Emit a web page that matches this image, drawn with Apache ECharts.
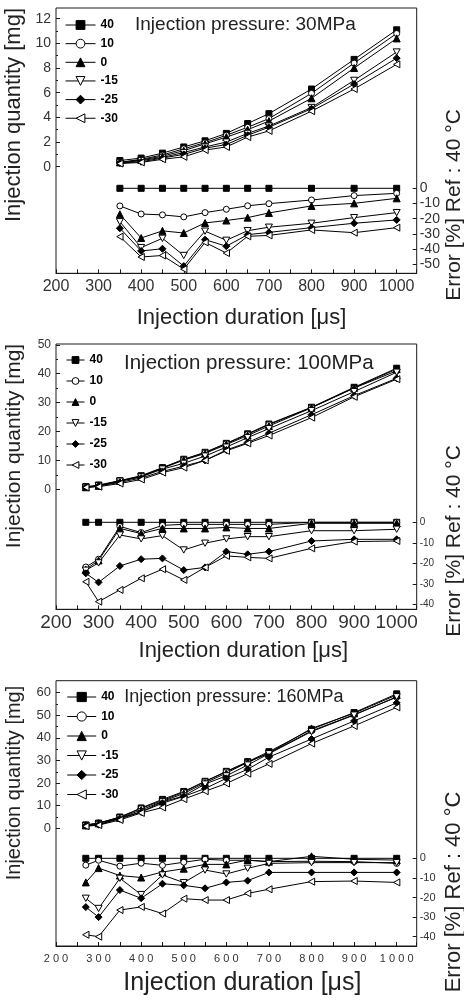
<!DOCTYPE html>
<html><head><meta charset="utf-8">
<script src="https://cdn.jsdelivr.net/npm/echarts@6/dist/echarts.min.js"></script>
<style>html,body{margin:0;padding:0;background:#fff}#c{width:464px;height:1001px}</style>
</head><body><div id="c"></div>
<script>
// ---------- DATA ----------
const tempLabels = ['40', '10', '0', '-15', '-25', '-30'];
const titles = ['Injection pressure: 30MPa', 'Injection pressure: 100MPa', 'Injection pressure: 160MPa'];
const xAxisName = 'Injection duration [\u03bcs]';
const leftAxisName = 'Injection quantity [mg]';
const rightAxisName = 'Error [%] Ref : 40 \u00b0C';

// Panel 1: 30 MPa
const dur30 = [350, 400, 450, 500, 550, 600, 650, 700, 800, 900, 1000];
const qty30_40  = [0.5, 0.7, 1.1, 1.6, 2.1, 2.7, 3.5, 4.3, 6.3, 8.7, 11.1];
const qty30_10  = [0.35, 0.6, 0.95, 1.45, 1.95, 2.55, 3.2, 3.9, 5.95, 8.4, 10.8];
const qty30_0   = [0.35, 0.55, 0.85, 1.3, 1.85, 2.4, 3.0, 3.7, 5.55, 8.0, 10.4];
const qty30_m15 = [0.3, 0.5, 0.75, 1.15, 1.6, 2.0, 2.7, 3.3, 4.8, 7.0, 9.3];
const qty30_m25 = [0.3, 0.4, 0.7, 1.0, 1.5, 1.8, 2.55, 3.2, 4.7, 6.7, 8.8];
const qty30_m30 = [0.25, 0.35, 0.6, 0.8, 1.35, 1.6, 2.4, 2.9, 4.5, 6.3, 8.3];
const err30_40  = [0, 0, 0, 0, 0, 0, 0, 0, 0, 0, 0];
const err30_10  = [-11.6, -16.9, -17.5, -18.8, -16, -13.8, -11.5, -10.1, -7.7, -4.8, -3.3];
const err30_0   = [-17.1, -32.7, -28, -29.4, -22.8, -21.2, -19.3, -16.2, -11.6, -9.9, -6.6];
const err30_m15 = [-22, -39, -32.9, -44.2, -28.2, -34.2, -27.9, -25.6, -23, -19.3, -16];
const err30_m25 = [-26.3, -41.2, -39.8, -51.2, -33.8, -38.1, -30.5, -29, -25.9, -23, -20.8];
const err30_m30 = [-31.8, -45.2, -44.2, -53.2, -35.6, -42.6, -31.6, -31, -27.4, -29.2, -25.9];

// Panel 2: 100 MPa
const dur100 = [270, 300, 350, 400, 450, 500, 550, 600, 650, 700, 800, 900, 1000];
const qty100_40  = [0.9, 1.5, 3.0, 4.7, 7.5, 10.4, 12.8, 15.9, 19.2, 22.6, 28.4, 35.3, 41.9];
const qty100_10  = [0.7, 1.2, 2.9, 4.5, 7.4, 10.3, 12.7, 15.8, 19.0, 22.4, 28.3, 35.0, 41.0];
const qty100_0   = [0.7, 1.2, 2.9, 4.4, 7.3, 10.1, 12.4, 15.5, 18.6, 21.9, 28.2, 35.1, 41.6];
const qty100_m15 = [0.7, 1.2, 2.8, 4.3, 7.0, 9.0, 11.5, 14.6, 17.9, 21.0, 27.2, 33.8, 40.5];
const qty100_m25 = [0.7, 1.1, 2.4, 3.9, 6.2, 8.0, 10.0, 13.6, 16.2, 19.4, 25.8, 32.4, 38.4];
const qty100_m30 = [0.65, 0.9, 2.0, 3.4, 5.8, 7.5, 10.0, 13.3, 15.9, 18.6, 24.8, 32.0, 38.1];
const err100_40  = [0, 0, 0, 0, 0, 0, 0, 0, 0, 0, 0, 0, 0];
const err100_10  = [-21.8, -18, -2, -5, -1.5, -1, -1, -1, -1, -1, 0, 0, 0];
const err100_0   = [-23, -18.6, -3, -5.5, -3, -3, -3, -2.5, -3, -3, -0.5, -0.5, -0.5];
const err100_m15 = [-23.4, -19.8, -6.2, -8.1, -6.5, -13.5, -10.2, -8.1, -7.0, -7.0, -4.1, -4.1, -3.4];
const err100_m25 = [-24.9, -29.3, -21.3, -18.0, -17.6, -23.3, -22, -14.3, -15.6, -14.3, -9.1, -8.3, -8.3];
const err100_m30 = [-29, -38.7, -33, -27.3, -22.9, -28.1, -22, -16.4, -17.1, -17.6, -12.7, -9.4, -9.1];

// Panel 3: 160 MPa
const dur160 = [270, 300, 350, 400, 450, 500, 550, 600, 650, 700, 800, 900, 1000];
const qty160_40  = [1.5, 2.3, 5.0, 9.0, 12.8, 16.3, 20.8, 25.2, 29.5, 33.9, 43.8, 51.2, 59.5];
const qty160_10  = [1.4, 2.3, 4.8, 8.8, 12.3, 16.0, 20.7, 25.0, 29.2, 33.3, 43.1, 50.3, 58.0];
const qty160_0   = [1.3, 2.2, 4.6, 8.1, 11.9, 15.4, 20.1, 24.4, 29.2, 33.3, 44.2, 50.9, 59.0];
const qty160_m15 = [1.2, 1.7, 4.5, 7.3, 11.7, 14.3, 19.6, 23.2, 28.0, 33.0, 42.8, 50.1, 58.2];
const qty160_m25 = [1.1, 1.6, 4.2, 7.2, 11.1, 14.1, 17.6, 22.1, 26.1, 31.5, 39.5, 47.5, 55.5];
const qty160_m30 = [0.9, 1.4, 3.7, 6.8, 9.2, 12.9, 16.4, 19.8, 24.2, 28.5, 37.5, 45.3, 53.5];
const err160_40  = [0, 0, 0, 0, 0, 0, 0, 0, 0, 0, 0, 0, 0];
const err160_10  = [-3.5, -1, -4, -2.5, -3.6, -2, -0.5, -1, -1, -1.7, -1.5, -1.7, -2.6];
const err160_0   = [-12.3, -5, -8.8, -9.8, -7, -5.3, -3.1, -3.1, -0.9, -1.7, 1.0, -0.5, -0.9];
const err160_m15 = [-20.4, -25.6, -10.2, -18.5, -8.5, -12.4, -6, -8, -5.1, -2.6, -2.2, -2.2, -2.2];
const err160_m25 = [-24.9, -30, -16.2, -20.4, -13, -13.8, -15.3, -12.3, -11.4, -7.2, -7.2, -7.2, -7.2];
const err160_m30 = [-39, -40, -26.4, -24.8, -28.2, -20.6, -21.3, -21.3, -17.9, -15.8, -11.9, -11.6, -12.3];

// ---------- STYLE / LAYOUT ----------
const FONT = '"Liberation Sans", Arial, sans-serif';
const INK = '#1a1a1a';
const symbols = ['rect', 'circle', 'triangle', 'path://M0,0 L10,0 L5,9 Z', 'diamond', 'path://M0,5 L9,0 L9,10 Z'];
const fills = ['#000', '#fff', '#000', '#fff', '#000', '#fff'];
const symSizes = [6, 6, 7, 7, 7, 7];

const panels = [
  { dur: dur30, qty: [qty30_40, qty30_10, qty30_0, qty30_m15, qty30_m25, qty30_m30],
    err: [err30_40, err30_10, err30_0, err30_m15, err30_m25, err30_m30],
    boxTop: 8, qTop: 18.7, qH: 148, qMax: 12, qInt: 2, eTop: 188.3, eH: 76, eMin: -50,
    xFont: 16, xMargin: 5, lFont: 14, rFont: 14, spaced: false,
    legTop: 19, legLeft: 65, legW: 30, legH: 11, legGap: 6.65, legFont: 12,
    title: { x: 135, y: 25, size: 19 }, xName: { x: 241.5, y: 318.3, size: 22 },
    lName: { x: 14, y: 115, size: 22 }, rName: { x: 454, y: 205, size: 21 } },
  { dur: dur100, qty: [qty100_40, qty100_10, qty100_0, qty100_m15, qty100_m25, qty100_m30],
    err: [err100_40, err100_10, err100_0, err100_m15, err100_m25, err100_m30],
    boxTop: 344, qTop: 344.8, qH: 144.5, qMax: 50, qInt: 10, eTop: 522.3, eH: 82, eMin: -40,
    xFont: 19, xMargin: 4, lFont: 12, rFont: 10, spaced: false,
    legTop: 354, legLeft: 66, legW: 18, legH: 8.5, legGap: 9, legFont: 12,
    title: { x: 124, y: 363.3, size: 20.5 }, xName: { x: 243.3, y: 651, size: 22 },
    lName: { x: 14, y: 446, size: 21 }, rName: { x: 454, y: 541, size: 21 } },
  { dur: dur160, qty: [qty160_40, qty160_10, qty160_0, qty160_m15, qty160_m25, qty160_m30],
    err: [err160_40, err160_10, err160_0, err160_m15, err160_m25, err160_m30],
    boxTop: 680.7, qTop: 692.7, qH: 135.6, qMax: 60, qInt: 10, eTop: 858.3, eH: 78.4, eMin: -40,
    xFont: 11, xMargin: 7, lFont: 13, rFont: 11, spaced: true,
    legTop: 691, legLeft: 66.7, legW: 29, legH: 11.5, legGap: 7.5, legFont: 12,
    title: { x: 124.3, y: 697.3, size: 18 }, xName: { x: 242.4, y: 983.3, size: 25 },
    lName: { x: 14, y: 783, size: 20 }, rName: { x: 454, y: 892, size: 22 } }
];

const X_MIN = 200, X_MAX = 1047, BOX_H = 265.3, LEFT = 56, RIGHT = 47.3;

const grid = [], xAxis = [], yAxis = [], series = [], legend = [], graphic = [];

panels.forEach((p, pi) => {
  const gb = pi * 3;
  grid.push({ left: LEFT, right: RIGHT, top: p.boxTop, height: BOX_H, show: true,
    borderColor: INK, borderWidth: 1, backgroundColor: 'transparent', containLabel: false, outerBoundsMode: 'none' });
  grid.push({ left: LEFT, right: RIGHT, top: p.qTop, height: p.qH, show: false, containLabel: false, outerBoundsMode: 'none' });
  grid.push({ left: LEFT, right: RIGHT, top: p.eTop, height: p.eH, show: false, containLabel: false, outerBoundsMode: 'none' });

  xAxis.push({ gridIndex: gb, type: 'value', min: X_MIN, max: X_MAX, interval: 50, position: 'bottom',
    axisLine: { show: true, lineStyle: { color: INK, width: 1 } },
    axisTick: { show: true, inside: true, length: 4, lineStyle: { color: INK } },
    splitLine: { show: false },
    axisLabel: { show: true, margin: p.xMargin, fontSize: p.xFont, color: '#333', fontFamily: FONT,
      formatter: v => (v % 100 === 0 && v <= 1000) ? (p.spaced ? String(v).split('').join(' ') : String(v)) : '' } });
  xAxis.push({ gridIndex: gb + 1, type: 'value', min: X_MIN, max: X_MAX, show: false });
  xAxis.push({ gridIndex: gb + 2, type: 'value', min: X_MIN, max: X_MAX, show: false });

  yAxis.push({ gridIndex: gb, type: 'value', min: 0, max: 1, show: false });
  yAxis.push({ gridIndex: gb + 1, type: 'value', position: 'left', min: 0, max: p.qMax, interval: p.qInt,
    axisLine: { show: false },
    axisTick: { show: true, inside: true, length: 4, lineStyle: { color: INK } },
    minorTick: { show: true, splitNumber: 2, length: 2, lineStyle: { color: INK } },
    splitLine: { show: false },
    axisLabel: { show: true, margin: 5, fontSize: p.lFont, color: '#333', fontFamily: FONT } });
  yAxis.push({ gridIndex: gb + 2, type: 'value', position: 'right', min: p.eMin, max: 0, interval: 10,
    axisLine: { show: false },
    axisTick: { show: true, inside: true, length: 4, lineStyle: { color: INK } },
    splitLine: { show: false },
    axisLabel: { show: true, margin: 3, fontSize: p.rFont, color: '#333', fontFamily: FONT } });

  tempLabels.forEach((name, si) => {
    const common = {
      type: 'line', name: name, symbol: symbols[si], symbolSize: symSizes[si], symbolKeepAspect: true,
      itemStyle: { color: fills[si], borderColor: '#000', borderWidth: 1 },
      lineStyle: { color: '#000', width: 1 }, clip: false, silent: true, animation: false,
      emphasis: { disabled: true }, z: 3
    };
    series.push(Object.assign({}, common, { xAxisIndex: gb + 1, yAxisIndex: gb + 1,
      data: p.dur.map((x, i) => [x, p.qty[si][i]]) }));
    series.push(Object.assign({}, common, { xAxisIndex: gb + 2, yAxisIndex: gb + 2,
      data: p.dur.map((x, i) => [x, p.err[si][i]]) }));
  });

  legend.push({ orient: 'vertical', left: p.legLeft, top: p.legTop, itemWidth: p.legW, itemHeight: p.legH,
    itemGap: p.legGap, padding: 0, selectedMode: false, data: tempLabels,
    lineStyle: { width: 1, color: '#000' },
    itemStyle: { borderWidth: 1, borderColor: '#000' },
    textStyle: { fontWeight: 'bold', fontSize: p.legFont, color: '#000', fontFamily: FONT, lineHeight: p.legH } });

  graphic.push({ type: 'text', x: p.title.x, y: p.title.y, silent: true,
    style: { text: titles[pi], fill: '#222', font: `${p.title.size}px ${FONT}`, align: 'left', verticalAlign: 'middle' } });
  graphic.push({ type: 'text', x: p.xName.x, y: p.xName.y, silent: true,
    style: { text: xAxisName, fill: '#222', font: `${p.xName.size}px ${FONT}`, align: 'center', verticalAlign: 'middle' } });
  graphic.push({ type: 'text', x: p.lName.x, y: p.lName.y, rotation: Math.PI / 2, silent: true,
    style: { text: leftAxisName, fill: '#222', font: `${p.lName.size}px ${FONT}`, align: 'center', verticalAlign: 'middle' } });
  graphic.push({ type: 'text', x: p.rName.x, y: p.rName.y, rotation: Math.PI / 2, silent: true,
    style: { text: rightAxisName, fill: '#222', font: `${p.rName.size}px ${FONT}`, align: 'center', verticalAlign: 'middle' } });
});

const chart = echarts.init(document.getElementById('c'), null, { renderer: 'canvas' });
chart.setOption({
  animation: false,
  backgroundColor: '#fff',
  textStyle: { fontFamily: FONT },
  grid, xAxis, yAxis, series, legend, graphic
});
</script></body></html>
